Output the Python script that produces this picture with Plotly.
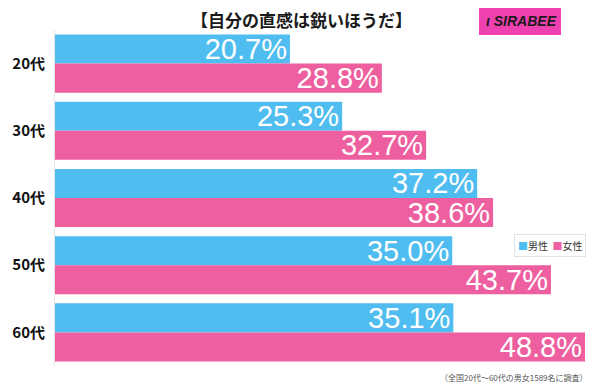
import plotly.graph_objects as go

categories = ["20代", "30代", "40代", "50代", "60代"]
male = [20.7, 25.3, 37.2, 35.0, 35.1]
female = [28.8, 32.7, 38.6, 43.7, 48.8]
series_names = ["男性", "女性"]
title_text = "【自分の直感は鋭いほうだ】"
note_text = "（全国20代～60代の男女1589名に調査）"

XMAX = 46.7
BLUE = "#50BDF0"
PINK = "#EE5FA0"

# page body has an 8px default margin; the figure is sized/offset for it
OFF = 8
W, H = 600 - OFF, 387 - OFF
ML, MT = 55 - OFF, 30 - OFF
MR = W - (585 - OFF)
MB = H - (366 - OFF)

fig = go.Figure()
for name, vals, col in [(series_names[0], male, BLUE), (series_names[1], female, PINK)]:
    shown = [min(v, XMAX) for v in vals]
    fig.add_trace(go.Bar(
        y=categories, x=shown, name=name, orientation="h",
        marker=dict(color=col, line=dict(width=0)),
        customdata=vals,
        texttemplate="%{customdata:.1f}%",
        textposition="inside", insidetextanchor="end",
        constraintext="none",
        textfont=dict(color="white", size=29, family="Liberation Sans, Arial, sans-serif"),
        hoverinfo="skip", showlegend=False,
    ))

fig.update_layout(
    width=W, height=H,
    margin=dict(l=ML, r=MR, t=MT, b=MB, autoexpand=False),
    paper_bgcolor="white", plot_bgcolor="white",
    barmode="group", bargap=0.135, bargroupgap=0,
    showlegend=False,
    xaxis=dict(range=[0, XMAX], visible=False, fixedrange=True, automargin=False),
    yaxis=dict(autorange="reversed", showline=True, linecolor="#e6e6e6", linewidth=1,
               ticks="", showgrid=False, automargin=False,
               tickfont=dict(size=15, color="#111111", family="Noto Sans CJK JP", weight="bold"),
               ticklabelstandoff=6),
    font=dict(family="Noto Sans CJK JP"),
)

plot_h = H - MT - MB
plot_w = W - ML - MR
def px(xp):
    return (xp - OFF - ML) / plot_w
def py(yp):
    return (H - MB - (yp - OFF)) / plot_h

fig.add_annotation(text="<b>" + title_text + "</b>", x=px(301), y=py(19.5), xref="paper", yref="paper",
                   xanchor="center", yanchor="middle", showarrow=False,
                   font=dict(size=17, color="#1a1a1a", family="Noto Sans CJK JP"))
# logo
fig.add_shape(type="rect", xref="paper", yref="paper", x0=px(479), x1=px(561), y0=py(35), y1=py(4),
              fillcolor="#EE40AE", line=dict(width=0))
fig.add_annotation(text="<b><i>ι SIRABEE</i></b>", x=px(521), y=py(21), xref="paper", yref="paper",
                   showarrow=False, xanchor="center", yanchor="middle",
                   font=dict(size=14, color="#1a1a1a", family="Liberation Sans Narrow, Liberation Sans"))
# legend
legend_text = (f"<span style='color:{BLUE}'>■</span>{series_names[0]}  "
               f"<span style='color:{PINK}'>■</span>{series_names[1]}")
fig.add_annotation(text=legend_text, x=px(550), y=py(246), xref="paper", yref="paper",
                   showarrow=False, xanchor="center", yanchor="middle",
                   bgcolor="white", bordercolor="#e2e2e2", borderwidth=1, borderpad=3,
                   font=dict(size=10, color="#333333", family="Noto Sans CJK JP"))
# note
fig.add_annotation(text=note_text, x=px(590), y=py(377), xref="paper", yref="paper",
                   showarrow=False, xanchor="right", yanchor="middle",
                   font=dict(size=8, color="#555555", family="Noto Sans CJK JP"))

fig.write_html("out.html")
